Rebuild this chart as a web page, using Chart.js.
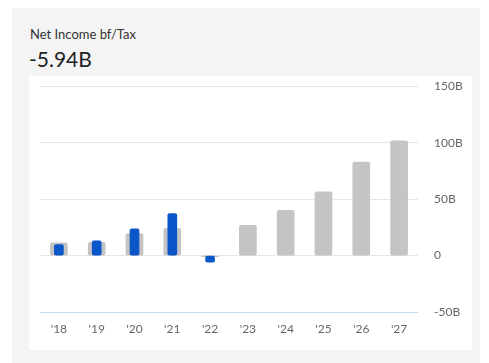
<!DOCTYPE html>
<html>
<head>
<meta charset="utf-8">
<script src="https://cdn.jsdelivr.net/npm/chart.js@4"></script>
<style>
  body { margin: 0; background: #fff; font-family: Lato, "Open Sans", sans-serif; }
  .card { position: absolute; left: 12px; top: 8px; width: 468px; height: 355px; background: #f4f4f4; }
  .title { position: absolute; left: 18px; top: 18px; font-size: 13px; color: #333; }
  .value { position: absolute; left: 17px; top: 38px; font-size: 21px; color: #222; }
  .panel { position: absolute; left: 17px; top: 68px; width: 443px; height: 274px; background: #fff; }
  #myChart { position: absolute; left: 0; top: -13px; }
</style>
</head>
<body>
<div class="card">
  <div class="title">Net Income bf/Tax</div>
  <div class="value">-5.94B</div>
  <div class="panel">
    <canvas id="myChart" width="443" height="287"></canvas>
  </div>
</div>

<script>
const years = ["'18", "'19", "'20", "'21", "'22", "'23", "'24", "'25", "'26", "'27"];
// billions
const estimates = [11.2, 11.8, 19.5, 24.2, -1, 26.8, 40.1, 56.5, 82.8, 101.6];
const actuals = [9.7, 13.0, 23.6, 37.2, -5.94, null, null, null, null, null];
const yTicks = [-50, 0, 50, 100, 150];

const ctx = document.getElementById('myChart').getContext('2d');
new Chart(ctx, {
    type: 'bar',
    data: {
        labels: years,
        datasets: [
            {
                label: 'Estimate',
                data: estimates,
                backgroundColor: '#c4c4c4',
                barThickness: 17,
                borderRadius: 2,
                borderSkipped: false,
                grouped: false,
                order: 2
            },
            {
                label: 'Actual',
                data: actuals,
                backgroundColor: '#0b57c9',
                barThickness: 9,
                borderRadius: 2,
                borderSkipped: false,
                grouped: false,
                order: 1
            }
        ]
    },
    options: {
        responsive: false,
        animation: false,
        events: [],
        layout: { padding: { left: 11, top: 0, right: 0, bottom: 0 } },
        plugins: { legend: { display: false }, tooltip: { enabled: false } },
        scales: {
            x: {
                grid: { display: false },
                border: { display: false },
                ticks: { color: '#666', font: { family: 'Lato', size: 12 }, padding: 2 },
                afterFit: s => { s.height = 38; }
            },
            y: {
                position: 'right',
                min: yTicks[0],
                max: yTicks[yTicks.length - 1],
                afterBuildTicks: s => { s.ticks = yTicks.map(v => ({ value: v })); },
                grid: {
                    drawTicks: false,
                    color: c => c.tick && c.tick.value === -50 ? '#c6daf3' : '#e6e6e6'
                },
                border: { display: false },
                ticks: {
                    color: '#666',
                    font: { family: 'Lato', size: 12 },
                    padding: 16,
                    callback: v => v === 0 ? '0' : v + 'B'
                },
                afterFit: s => { s.width = 54; }
            }
        }
    }
});
</script>
</body>
</html>
